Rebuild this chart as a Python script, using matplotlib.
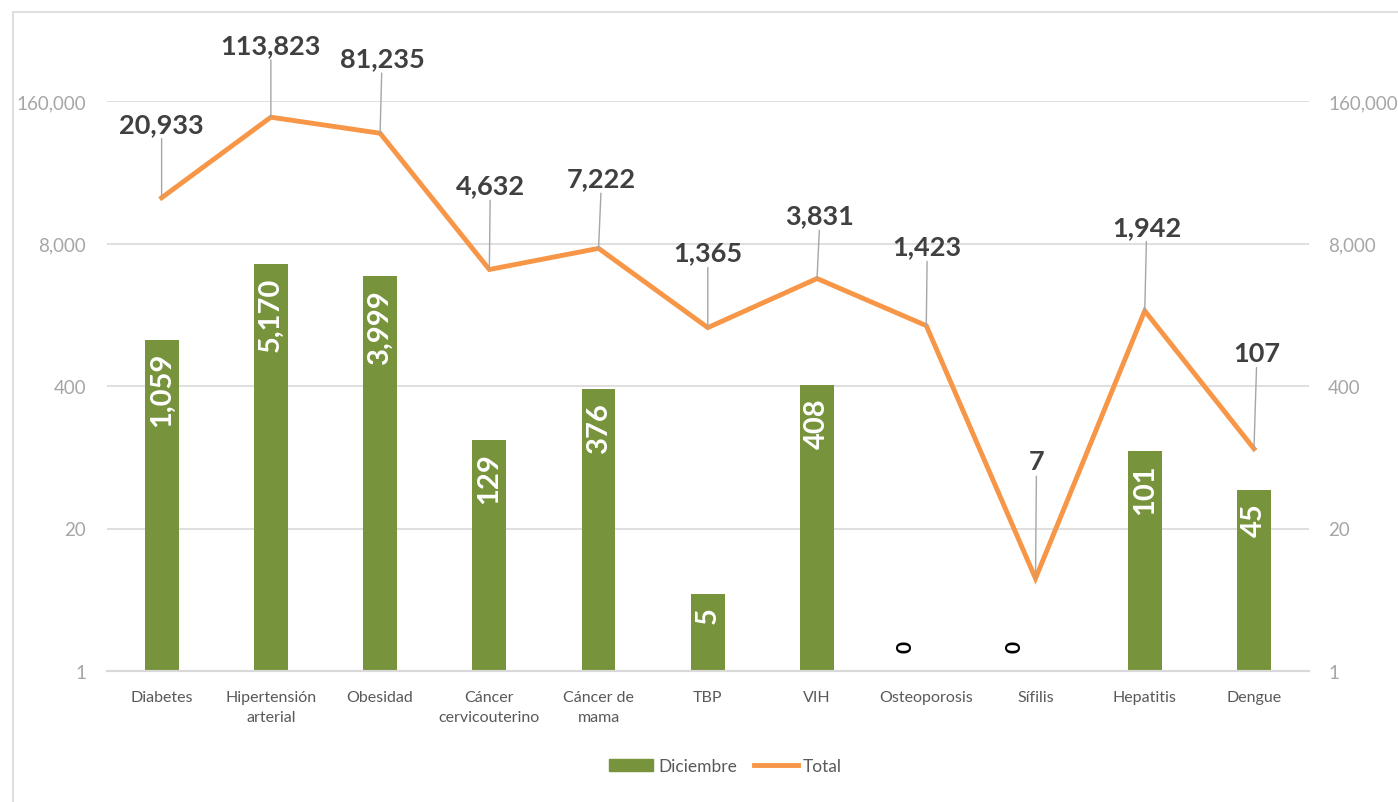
import matplotlib
matplotlib.use("Agg")
import matplotlib.pyplot as plt
import numpy as np
from matplotlib.patches import Rectangle
from matplotlib.lines import Line2D
from matplotlib.ticker import FixedLocator, NullLocator

# data
categorias = ["Diabetes", "Hipertensión\narterial", "Obesidad", "Cáncer\ncervicouterino",
              "Cáncer de\nmama", "TBP", "VIH", "Osteoporosis", "Sífilis", "Hepatitis", "Dengue"]
diciembre = [1059, 5170, 3999, 129, 376, 5, 408, 0, 0, 101, 45]
total = [20933, 113823, 81235, 4632, 7222, 1365, 3831, 1423, 7, 1942, 107]
y_ticks = [1, 20, 400, 8000, 160000]
y_ticklabels = ["1", "20", "400", "8,000", "160,000"]

# label offsets (pixels) for the Total labels
label_dx = [0, 0, 2, 1, 3, 0, 3, 1, 1, 2, 3]
label_dy = [74, 72, 75, 84, 70, 75, 63, 79, 117, 84, 96]

VERDE = "#77933C"
NARANJA = "#F79646"
FONT = ["Lato", "DejaVu Sans"]
plt.rcParams["font.family"] = FONT

fig = plt.figure(figsize=(13.98, 8.03), dpi=100)
W, H = 1398, 803
ax = fig.add_axes([107 / W, 1 - 672 / H, (1308.6 - 107) / W, (672 - 102) / H])

# chart frame
fig.patches.append(Rectangle((13 / W, -0.05), 1.2, 1 - 13 / H + 0.05, transform=fig.transFigure,
                             fill=False, edgecolor="#D9D9D9", lw=1.2))

x = np.arange(len(categorias))
ax.set_yscale("log")
ax.set_ylim(1, 160000)
ax.set_xlim(-0.5, len(categorias) - 0.5)

heights = [v if v > 0 else np.nan for v in diciembre]
ax.bar(x, heights, width=0.31, bottom=0, color=VERDE, zorder=2)
ax.plot(x, total, color=NARANJA, lw=3.5, zorder=3, solid_joinstyle="miter")

ax.yaxis.set_major_locator(FixedLocator(y_ticks))
ax.yaxis.set_minor_locator(NullLocator())
ax.set_yticklabels(y_ticklabels)
ax.tick_params(axis="y", length=0, labelsize=13.5, labelcolor="#A6A6A6", pad=15)
ax.grid(axis="y", color="#D9D9D9", lw=1.2, zorder=0)
ax.set_axisbelow(True)

ax2 = ax.twinx()
ax2.set_yscale("log")
ax2.set_ylim(ax.get_ylim())
ax2.yaxis.set_major_locator(FixedLocator(y_ticks))
ax2.yaxis.set_minor_locator(NullLocator())
ax2.set_yticklabels(y_ticklabels)
ax2.tick_params(axis="y", length=0, labelsize=13.5, labelcolor="#A6A6A6", pad=14)

ax.set_xticks(x)
ax.set_xticklabels(categorias, linespacing=1.55)
ax.tick_params(axis="x", length=0, labelsize=11.5, labelcolor="#595959", pad=14)

for a in (ax, ax2):
    for s in ("top", "left", "right"):
        a.spines[s].set_visible(False)
    a.spines["bottom"].set_color("#D9D9D9")
    a.spines["bottom"].set_linewidth(1.5)

# bar labels
for xi, v in zip(x, diciembre):
    if v > 0:
        ax.annotate(f"{v:,}", (xi, v), xytext=(0, -12), textcoords="offset pixels",
                    rotation=90, ha="center", va="top", color="white",
                    fontsize=21, fontweight="bold", zorder=4)
    else:
        ax.annotate(f"{v:,}", (xi, 1), xytext=(-21, 25), textcoords="offset pixels",
                    rotation=90, ha="center", va="center", color="black",
                    fontsize=15, fontweight="bold", zorder=4)

# total labels with leader lines
for xi, v, dx, dy in zip(x, total, label_dx, label_dy):
    ax.annotate(f"{v:,}", (xi, v), xytext=(dx, dy), textcoords="offset pixels",
                ha="center", va="center", color="#404040", fontsize=19.5,
                fontweight="bold", annotation_clip=False, zorder=5,
                arrowprops=dict(arrowstyle="-", color="#A6A6A6", lw=1,
                                shrinkA=0, shrinkB=0))

handles = [Rectangle((0, 0), 1, 1, color=VERDE),
           Line2D([0], [0], color=NARANJA, lw=3.5)]
fig.legend(handles, ["Diciembre", "Total"], loc="center", bbox_to_anchor=(0.519, 1 - 767 / H),
           ncol=2, frameon=False, fontsize=12.5, labelcolor="#595959",
           handlelength=2.5, handleheight=0.7, handletextpad=0.3, columnspacing=1.0)

fig.savefig("out.png", dpi=100)
